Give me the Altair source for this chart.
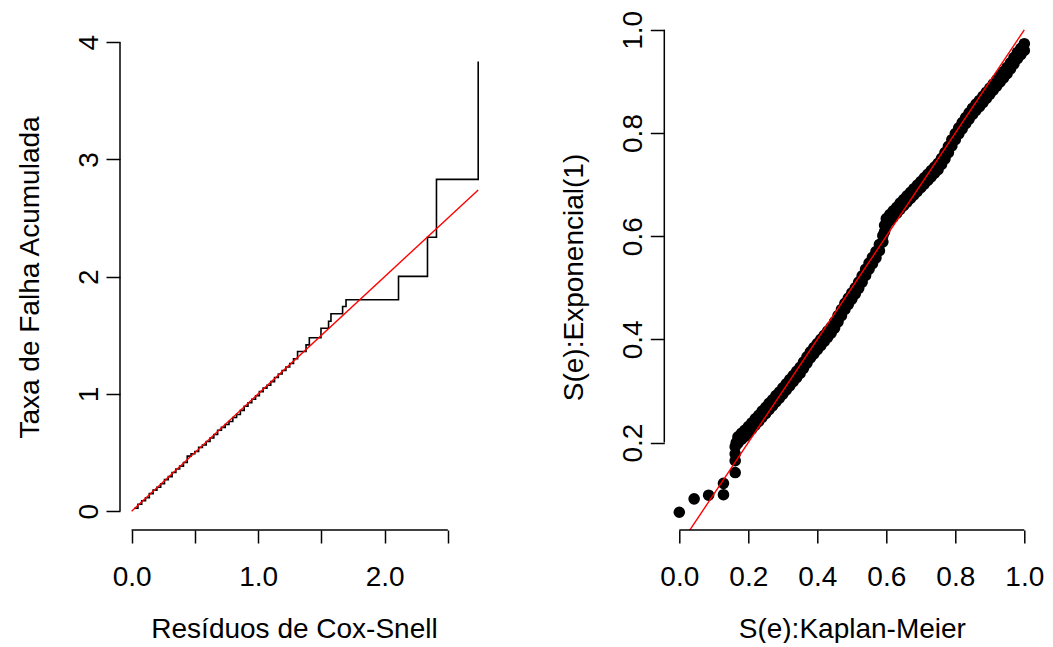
import altair as alt
import pandas as pd

# ---- left panel: Nelson-Aalen cumulative hazard of Cox-Snell residuals (step points)
cs_time = [0.02, 0.05, 0.08, 0.11, 0.14, 0.17, 0.20, 0.23, 0.26, 0.29, 0.32, 0.35, 0.38,
           0.41, 0.44, 0.47, 0.50, 0.53, 0.56, 0.59, 0.62, 0.65, 0.68, 0.71, 0.74, 0.77,
           0.80, 0.83, 0.86, 0.89, 0.92, 0.95, 0.98, 1.01, 1.04, 1.07, 1.10, 1.13, 1.16,
           1.19, 1.22, 1.25, 1.28, 1.312, 1.379, 1.405, 1.497, 1.557, 1.576, 1.668, 1.695,
           2.11, 2.339, 2.41, 2.74]
cs_haz = [0.025, 0.06, 0.09, 0.115, 0.15, 0.18, 0.205, 0.235, 0.27, 0.295, 0.33, 0.36, 0.385,
          0.415, 0.47, 0.49, 0.51, 0.545, 0.565, 0.595, 0.625, 0.655, 0.69, 0.715, 0.74, 0.765,
          0.80, 0.825, 0.86, 0.895, 0.925, 0.955, 0.985, 1.02, 1.05, 1.075, 1.105, 1.14, 1.17,
          1.20, 1.23, 1.26, 1.30, 1.362, 1.419, 1.479, 1.561, 1.62, 1.684, 1.746, 1.803,
          2.003, 2.336, 2.83, 3.836]
ref_left = [0.0, 2.74]

# ---- right panel: S(e) Kaplan-Meier vs S(e) Exponential(1)
# isolated points at the low end
km_low = [0.0, 0.043, 0.085, 0.128, 0.128, 0.162, 0.162, 0.162, 0.162, 0.165]
expo_low = [0.065, 0.091, 0.098, 0.099, 0.121, 0.142, 0.165, 0.178, 0.192, 0.200]
# dense band (each KM value carries an upper and a lower point of the band)
km_band = [0.17, 0.18, 0.19, 0.20, 0.21, 0.22, 0.23, 0.24, 0.25, 0.26, 0.27, 0.28, 0.29,
           0.30, 0.31, 0.32, 0.33, 0.34, 0.35, 0.36, 0.37, 0.38, 0.39, 0.40, 0.41, 0.42,
           0.43, 0.44, 0.45, 0.46, 0.47, 0.48, 0.49, 0.50, 0.51, 0.52, 0.53, 0.54, 0.55,
           0.56, 0.57, 0.58, 0.59, 0.595, 0.60, 0.61, 0.62, 0.63, 0.64, 0.65, 0.66, 0.67,
           0.68, 0.69, 0.70, 0.71, 0.72, 0.73, 0.74, 0.75, 0.76, 0.77, 0.78, 0.79, 0.80,
           0.81, 0.82, 0.83, 0.84, 0.85, 0.86, 0.87, 0.88, 0.89, 0.90, 0.91, 0.92, 0.93,
           0.94, 0.95, 0.96, 0.97, 0.98, 0.99, 1.00]
expo_hi = [0.211, 0.218, 0.224, 0.231, 0.238, 0.246, 0.253, 0.261, 0.268, 0.276, 0.283, 0.291, 0.298,
           0.306, 0.314, 0.322, 0.330, 0.338, 0.346, 0.356, 0.366, 0.376, 0.384, 0.392, 0.400, 0.408,
           0.416, 0.424, 0.434, 0.446, 0.458, 0.470, 0.480, 0.490, 0.500, 0.511, 0.523, 0.536, 0.548,
           0.559, 0.570, 0.584, 0.601, 0.621, 0.634, 0.642, 0.649, 0.656, 0.664, 0.671, 0.678, 0.685,
           0.692, 0.699, 0.706, 0.713, 0.720, 0.727, 0.734, 0.741, 0.751, 0.762, 0.774, 0.787, 0.799,
           0.810, 0.820, 0.830, 0.839, 0.848, 0.856, 0.863, 0.871, 0.879, 0.887, 0.895, 0.903, 0.911,
           0.919, 0.927, 0.936, 0.946, 0.956, 0.964, 0.973]
expo_lo = [0.199, 0.206, 0.212, 0.219, 0.226, 0.234, 0.241, 0.249, 0.256, 0.264, 0.271, 0.279, 0.286,
           0.294, 0.302, 0.310, 0.318, 0.326, 0.334, 0.344, 0.354, 0.364, 0.372, 0.380, 0.388, 0.396,
           0.404, 0.412, 0.422, 0.434, 0.446, 0.458, 0.468, 0.478, 0.488, 0.499, 0.511, 0.524, 0.536,
           0.547, 0.558, 0.572, 0.589, 0.609, 0.622, 0.630, 0.637, 0.644, 0.652, 0.659, 0.666, 0.673,
           0.680, 0.687, 0.694, 0.701, 0.708, 0.715, 0.722, 0.729, 0.739, 0.750, 0.762, 0.775, 0.787,
           0.798, 0.808, 0.818, 0.827, 0.836, 0.844, 0.851, 0.859, 0.867, 0.875, 0.883, 0.891, 0.899,
           0.907, 0.915, 0.924, 0.934, 0.944, 0.952, 0.960]
ref_right = [0.0, 1.0]

FONT = "Liberation Sans"
FS = 28
W1, W2, H = 372, 375, 506

left_x_dom = [-0.0917, 2.849]
left_y_dom = [-0.160, 4.155]
right_x_dom = [-0.0435, 1.0435]
right_y_dom = [0.0306, 1.0112]


def xaxis(title, values, label_expr, width, title_x):
    return alt.Axis(values=values, labelExpr=label_expr, title=title, domain=False,
                    grid=False, ticks=True, tickSize=13, tickWidth=1.5, tickColor="black",
                    labelFont=FONT, labelFontSize=FS, labelColor="black", labelPadding=20,
                    labelFlush=False, labelOverlap=False,
                    titleFont=FONT, titleFontSize=FS, titleFontWeight="normal",
                    titleColor="black", titleBaseline="alphabetic", titleX=title_x, titleY=107)


def yaxis(title, values, label_expr):
    return alt.Axis(values=values, labelExpr=label_expr, title=title, domain=False,
                    grid=False, ticks=True, tickSize=14, tickWidth=1.5, tickColor="black",
                    labelFont=FONT, labelFontSize=FS, labelColor="black", labelPadding=9,
                    labelAngle=270, labelAlign="center", labelBaseline="alphabetic",
                    labelFlush=False, labelOverlap=False,
                    titleFont=FONT, titleFontSize=FS, titleFontWeight="normal",
                    titleColor="black", titleBaseline="alphabetic", titleAngle=270,
                    titleX=-82, titleY=H / 2)


lx = alt.Scale(domain=left_x_dom, nice=False, zero=False)
ly = alt.Scale(domain=left_y_dom, nice=False, zero=False)
rx = alt.Scale(domain=right_x_dom, nice=False, zero=False)
ry = alt.Scale(domain=right_y_dom, nice=False, zero=False)

step = alt.Chart(pd.DataFrame({"x": cs_time, "y": cs_haz})).mark_line(
    interpolate="step-after", color="black", strokeWidth=1.6, clip=True
).encode(
    x=alt.X("x:Q", scale=lx, axis=xaxis("Resíduos de Cox-Snell", [0, 0.5, 1, 1.5, 2, 2.5],
                                         "datum.value % 1 == 0 ? format(datum.value, '.1f') : ''",
                                         W1, 174)),
    y=alt.Y("y:Q", scale=ly, axis=yaxis("Taxa de Falha Acumulada", [0, 1, 2, 3, 4],
                                         "format(datum.value, 'd')")),
)
red_l = alt.Chart(pd.DataFrame({"x": ref_left, "y": ref_left})).mark_line(
    color="red", strokeWidth=1.4, clip=True
).encode(x=alt.X("x:Q", scale=lx), y=alt.Y("y:Q", scale=ly))

axl_x = alt.Chart(pd.DataFrame({"a": [0.0], "b": [2.5]})).mark_rule(color="black", strokeWidth=1.5).encode(
    x=alt.X("a:Q", scale=lx), x2="b:Q", y=alt.value(H))
axl_y = alt.Chart(pd.DataFrame({"a": [0.0], "b": [4.0]})).mark_rule(color="black", strokeWidth=1.5).encode(
    y=alt.Y("a:Q", scale=ly), y2="b:Q", x=alt.value(0))

left = alt.layer(step, red_l, axl_x, axl_y).properties(width=W1, height=H)

pts_df = pd.DataFrame({
    "x": km_low + km_band + km_band,
    "y": expo_low + expo_hi + expo_lo,
})
pts = alt.Chart(pts_df).mark_circle(
    color="black", opacity=1, size=135, clip=True
).encode(
    x=alt.X("x:Q", scale=rx, axis=xaxis("S(e):Kaplan-Meier", [0, 0.2, 0.4, 0.6, 0.8, 1.0],
                                         "format(datum.value, '.1f')", W2, W2 / 2)),
    y=alt.Y("y:Q", scale=ry, axis=yaxis("S(e):Exponencial(1)", [0.2, 0.4, 0.6, 0.8, 1.0],
                                         "format(datum.value, '.1f')")),
)
red_r = alt.Chart(pd.DataFrame({"x": ref_right, "y": ref_right})).mark_line(
    color="red", strokeWidth=1.4, clip=True
).encode(x=alt.X("x:Q", scale=rx), y=alt.Y("y:Q", scale=ry))

axr_x = alt.Chart(pd.DataFrame({"a": [0.0], "b": [1.0]})).mark_rule(color="black", strokeWidth=1.5).encode(
    x=alt.X("a:Q", scale=rx), x2="b:Q", y=alt.value(H))
axr_y = alt.Chart(pd.DataFrame({"a": [0.2], "b": [1.0]})).mark_rule(color="black", strokeWidth=1.5).encode(
    y=alt.Y("a:Q", scale=ry), y2="b:Q", x=alt.value(0))

right = alt.layer(pts, red_r, axr_x, axr_y).properties(width=W2, height=H)

chart = alt.hconcat(left, right, spacing=172.3, bounds="flush").properties(
    padding={"left": 15, "top": 10, "right": 5, "bottom": 0},
    background="white",
).configure_view(stroke=None)

chart.save("out.html", embed_options={"renderer": "svg", "actions": False})
